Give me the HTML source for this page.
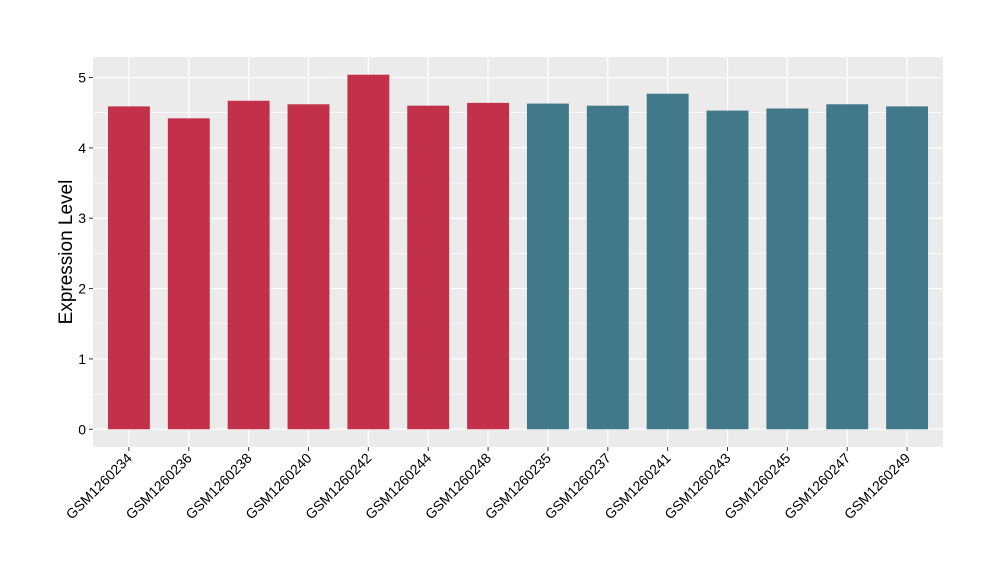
<!DOCTYPE html>
<html><head><meta charset="utf-8"><style>
body{margin:0;background:#fff;font-family:"Liberation Sans",sans-serif}
</style></head><body>
<svg id="chart" width="1000" height="580" xmlns="http://www.w3.org/2000/svg" font-family="Liberation Sans, sans-serif">
<rect x="93" y="57" width="850" height="390" fill="#ebebeb"/>
<g id="grid"></g><g id="bars"></g><g id="axes"></g>
<text transform="translate(72,252) rotate(-90)" text-anchor="middle" font-size="19" fill="#000">Expression Level</text>
</svg>
<script>
const categories=["GSM1260234","GSM1260236","GSM1260238","GSM1260240","GSM1260242","GSM1260244","GSM1260248","GSM1260235","GSM1260237","GSM1260241","GSM1260243","GSM1260245","GSM1260247","GSM1260249"];
const values=[4.59,4.42,4.67,4.62,5.04,4.60,4.64,4.63,4.60,4.77,4.53,4.56,4.62,4.59];
const groups=["a","a","a","a","a","a","a","b","b","b","b","b","b","b"];
const yTicks=[0,1,2,3,4,5];
const colors={a:"#c3304a",b:"#42798a"};
const NS="http://www.w3.org/2000/svg";
const L=93,R=943,T=57,B=447;
const yMin=-0.252,yMax=5.292;
const y=v=>B-(v-yMin)/(yMax-yMin)*(B-T);
const step=(R-L)/(categories.length-1+1.2);
const x=i=>L+(0.6+i)*step;
function mk(tag,attrs,parent){const e=document.createElementNS(NS,tag);for(const k in attrs)e.setAttribute(k,attrs[k]);parent.appendChild(e);return e;}
const grid=document.getElementById('grid'),bars=document.getElementById('bars'),axes=document.getElementById('axes');
for(let i=0;i<yTicks.length;i++){
 const v=yTicks[i];
 if(i<yTicks.length-1){const m=mk('line',{x1:L,x2:R,y1:y(v+0.5),y2:y(v+0.5),stroke:"#fff","stroke-width":0.6},grid);
 }
 const g=mk('line',{x1:L,x2:R,y1:y(v),y2:y(v),stroke:"#fff","stroke-width":1.2},grid);
 
 const t=mk('line',{x1:L-4,x2:L,y1:y(v),y2:y(v),stroke:"#333","stroke-width":1},axes);
 
 const lb=mk('text',{x:L-7,y:y(v)+5,"text-anchor":"end","font-size":14,fill:"#000"},axes);lb.textContent=v;
 
}
const bw=step*0.7;
categories.forEach((c,i)=>{
 const gl=mk('line',{x1:x(i),x2:x(i),y1:T,y2:B,stroke:"#fff","stroke-width":1.2},grid);
 
 const r=mk('rect',{x:x(i)-bw/2,y:y(values[i]),width:bw,height:y(0)-y(values[i]),fill:colors[groups[i]]},bars);
 
 const t=mk('line',{x1:x(i),x2:x(i),y1:B,y2:B+4,stroke:"#333","stroke-width":1},axes);
 
 const lb=mk('text',{x:x(i)+4,y:B+12,"text-anchor":"end","font-size":14,fill:"#000",transform:`rotate(-45 ${x(i)+4} ${B+12})`},axes);lb.textContent=c;
 
});
</script>
</body></html>
